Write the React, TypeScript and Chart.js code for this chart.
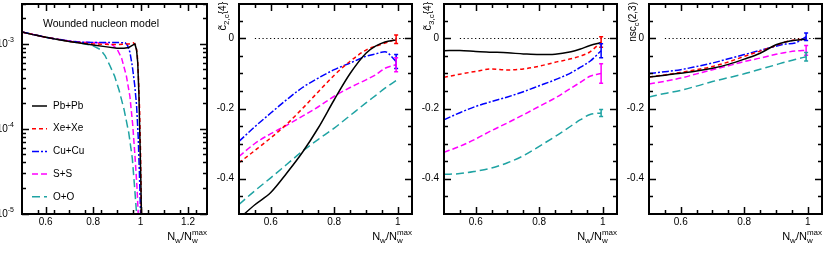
import React, { useEffect, useRef } from 'react';
import { Chart, registerables } from 'chart.js';

Chart.register(...registerables);

const FONT = '"Liberation Sans", Arial, Helvetica, sans-serif';

// ---------- series meta ----------
const SERIES_NAMES = ['Pb+Pb', 'Xe+Xe', 'Cu+Cu', 'S+S', 'O+O'];
const SERIES_COLORS = ['#000000', '#ff0000', '#0000ff', '#ff00ff', '#1fa3a3'];
const SERIES_DASHES: number[][] = [[], [4, 3], [7, 2, 2, 2], [6, 3], [8, 4]];

// ---------- panel 1 : distribution (log) ----------
const P1_PB_X = [0.5, 0.55, 0.6, 0.65, 0.7, 0.75, 0.8, 0.85, 0.9, 0.93, 0.95, 0.965, 0.976, 0.983, 0.988, 0.993, 0.997, 1.001, 1.004];
const P1_PB_Y = [1.38e-3, 1.28e-3, 1.2e-3, 1.13e-3, 1.07e-3, 1.02e-3, 9.7e-4, 9.3e-4, 8.9e-4, 8.9e-4, 9.1e-4, 9.6e-4, 1.0e-3, 8.5e-4, 6e-4, 2.5e-4, 8e-5, 2.5e-5, 8e-6];
const P1_XE_X = [0.5, 0.6, 0.7, 0.75, 0.8, 0.85, 0.9, 0.95, 0.97, 0.98, 0.986, 0.991, 0.996, 1.0, 1.004];
const P1_XE_Y = [1.38e-3, 1.2e-3, 1.07e-3, 1.03e-3, 1.0e-3, 9.9e-4, 9.85e-4, 1.0e-3, 1.03e-3, 9.6e-4, 7.5e-4, 4e-4, 1.6e-4, 5e-5, 8e-6];
const P1_CU_X = [0.5, 0.6, 0.7, 0.75, 0.8, 0.85, 0.9, 0.935, 0.945, 0.955, 0.965, 0.975, 0.983, 0.99, 0.995, 1.0, 1.003];
const P1_CU_Y = [1.38e-3, 1.2e-3, 1.08e-3, 1.05e-3, 1.04e-3, 1.04e-3, 1.04e-3, 1.03e-3, 9.6e-4, 8e-4, 5.5e-4, 3.3e-4, 1.9e-4, 8e-5, 3e-5, 1e-5, 5e-6];
const P1_SS_X = [0.5, 0.6, 0.7, 0.75, 0.8, 0.85, 0.88, 0.9, 0.92, 0.94, 0.955, 0.967, 0.977, 0.985, 0.99, 0.994];
const P1_SS_Y = [1.38e-3, 1.2e-3, 1.08e-3, 1.05e-3, 1.04e-3, 1.03e-3, 9.8e-4, 8.8e-4, 6.8e-4, 4.2e-4, 2.4e-4, 1.1e-4, 4.5e-5, 2e-5, 1e-5, 5e-6];
const P1_OO_X = [0.5, 0.6, 0.7, 0.75, 0.8, 0.83, 0.85, 0.87, 0.89, 0.91, 0.93, 0.95, 0.965, 0.975, 0.983, 0.99];
const P1_OO_Y = [1.38e-3, 1.2e-3, 1.07e-3, 1.02e-3, 9.5e-4, 8.6e-4, 7.3e-4, 5.6e-4, 4.2e-4, 2.8e-4, 1.7e-4, 9e-5, 4.5e-5, 2e-5, 1e-5, 4e-6];

// ---------- panels 2-4 : common centrality grid ----------
const X_GRID = [0.5, 0.55, 0.6, 0.65, 0.7, 0.75, 0.8, 0.85, 0.9, 0.93, 0.96, 0.995];

const C2_PB = [-0.515, -0.475, -0.44, -0.385, -0.325, -0.255, -0.175, -0.1, -0.042, -0.022, -0.01, -0.004];
const C2_XE = [-0.355, -0.32, -0.284, -0.245, -0.2, -0.152, -0.105, -0.065, -0.033, -0.022, -0.013, -0.002];
const C2_CU = [-0.294, -0.252, -0.213, -0.175, -0.14, -0.113, -0.089, -0.07, -0.051, -0.044, -0.038, -0.066];
const C2_SS = [-0.337, -0.3, -0.272, -0.248, -0.222, -0.195, -0.165, -0.14, -0.118, -0.104, -0.085, -0.075];
const C2_OO = [-0.474, -0.435, -0.398, -0.36, -0.322, -0.288, -0.256, -0.22, -0.184, -0.163, -0.142, -0.12];
const C2_ERR = [0, 0.012, 0.02, 0.02, 0];

const C3_PB = [-0.035, -0.034, -0.037, -0.039, -0.041, -0.044, -0.046, -0.045, -0.038, -0.03, -0.02, -0.012];
const C3_XE = [-0.111, -0.102, -0.094, -0.087, -0.09, -0.087, -0.079, -0.068, -0.058, -0.05, -0.038, -0.01];
const C3_CU = [-0.232, -0.212, -0.194, -0.18, -0.167, -0.152, -0.135, -0.118, -0.098, -0.082, -0.065, -0.035];
const C3_SS = [-0.325, -0.308, -0.287, -0.263, -0.241, -0.218, -0.194, -0.17, -0.142, -0.125, -0.108, -0.1];
const C3_OO = [-0.388, -0.386, -0.379, -0.37, -0.355, -0.335, -0.308, -0.28, -0.25, -0.232, -0.217, -0.213];
const C3_ERR = [0, 0.015, 0.02, 0.028, 0.01];

const NSC_PB = [-0.11, -0.105, -0.099, -0.093, -0.085, -0.074, -0.059, -0.042, -0.018, -0.01, -0.005, -0.002];
const NSC_XE = [-0.11, -0.104, -0.097, -0.089, -0.08, -0.067, -0.051, -0.036, -0.02, -0.01, -0.004, -0.002];
const NSC_CU = [-0.1, -0.095, -0.089, -0.08, -0.07, -0.058, -0.046, -0.034, -0.022, -0.016, -0.013, 0.005];
const NSC_SS = [-0.13, -0.122, -0.113, -0.101, -0.089, -0.078, -0.066, -0.056, -0.045, -0.04, -0.036, -0.034];
const NSC_OO = [-0.167, -0.157, -0.148, -0.136, -0.123, -0.112, -0.101, -0.088, -0.075, -0.067, -0.06, -0.052];
const NSC_ERR = [0, 0, 0.011, 0.014, 0.012];

// ---------- ticks ----------
const X1_MAJOR = [0.6, 0.8, 1.0, 1.2];
const X1_LABELS = ['0.6', '0.8', '1', '1.2'];
const X_MAJOR = [0.6, 0.8, 1.0];
const X_LABELS = ['0.6', '0.8', '1'];
const Y_MAJOR = [0, -0.2, -0.4];
const Y_LABELS = ['0', '-0.2', '-0.4'];
const Y1_MAJOR = [1e-5, 1e-4, 1e-3];
const Y1_EXP = ['-5', '-4', '-3'];
const ZERO_FROM = 0.55;

// ---------- layout constants ----------
const TOP = 3.5;
const BOTTOM = 213.5;
const CANVAS_TOP = -12;
const CANVAS_H = 258 - CANVAS_TOP;
const PAD_TOP = TOP - CANVAS_TOP;
const X_AXIS_H = CANVAS_H - PAD_TOP - (BOTTOM - TOP);
const PAD_R = 22;

type Seg = { t: string; size: number; dy?: number; stack?: boolean };
type Series = { x: number[]; y: number[] };
interface PanelCfg {
  key: string;
  left: number;
  right: number;
  xMin: number;
  xMax: number;
  xMajor: number[];
  xLabels: string[];
  xMinor: number[];
  log: boolean;
  yMin: number;
  yMax: number;
  yMajor: number[];
  yLabels: string[];
  yMinor: number[];
  series: Series[];
  errs?: number[];
  yTitle?: Seg[];
  legend?: boolean;
  zeroLine?: boolean;
  smooth?: boolean;
}

function steps(a: number, b: number, st: number): number[] {
  const out: number[] = [];
  for (let v = a; v <= b + 1e-9; v += st) out.push(+v.toFixed(6));
  return out;
}
function logMinor(): number[] {
  const out: number[] = [];
  for (let e = -5; e <= -3; e++) for (let m = 2; m <= 9; m++) {
    const v = m * Math.pow(10, e);
    if (v <= 3e-3) out.push(v);
  }
  return out;
}

function drawRich(ctx: CanvasRenderingContext2D, segs: Seg[], x: number, y: number, align: 'left' | 'right') {
  const widths = segs.map((s) => {
    ctx.font = `${s.size}px ${FONT}`;
    return ctx.measureText(s.t).width;
  });
  const pos: number[] = [];
  let cur = 0, lastStart = 0, lastW = 0;
  segs.forEach((s, i) => {
    if (s.stack) {
      pos.push(lastStart);
      const w = Math.max(lastW, widths[i]);
      cur = lastStart + w;
      lastW = w;
    } else {
      pos.push(cur);
      lastStart = cur;
      lastW = widths[i];
      cur += widths[i];
    }
  });
  const x0 = align === 'right' ? x - cur : x;
  ctx.textAlign = 'left';
  ctx.textBaseline = 'alphabetic';
  segs.forEach((s, i) => {
    ctx.font = `${s.size}px ${FONT}`;
    ctx.fillText(s.t, x0 + pos[i], y + (s.dy || 0));
  });
}

const X_TITLE: Seg[] = [
  { t: 'N', size: 11 },
  { t: 'w', size: 8, dy: 3 },
  { t: '/', size: 11 },
  { t: 'N', size: 11 },
  { t: 'w', size: 8, dy: 3 },
  { t: 'max', size: 8, dy: -5, stack: true },
];

const PANELS: PanelCfg[] = [
  {
    key: 'p1', left: 22, right: 207, xMin: 0.5, xMax: 1.28,
    xMajor: X1_MAJOR, xLabels: X1_LABELS, xMinor: steps(0.5 + 0.2 / 3, 1.27, 0.2 / 3),
    log: true, yMin: 1e-5, yMax: 3e-3, yMajor: Y1_MAJOR, yLabels: Y1_EXP, yMinor: logMinor(),
    series: [
      { x: P1_PB_X, y: P1_PB_Y }, { x: P1_XE_X, y: P1_XE_Y }, { x: P1_CU_X, y: P1_CU_Y },
      { x: P1_SS_X, y: P1_SS_Y }, { x: P1_OO_X, y: P1_OO_Y },
    ],
    legend: true,
  },
  {
    key: 'p2', left: 239, right: 412, xMin: 0.5, xMax: 1.045,
    xMajor: X_MAJOR, xLabels: X_LABELS, xMinor: steps(0.55, 1.0, 0.05),
    log: false, yMin: -0.5, yMax: 0.1, yMajor: Y_MAJOR, yLabels: Y_LABELS, yMinor: steps(-0.45, 0.05, 0.05),
    series: [C2_PB, C2_XE, C2_CU, C2_SS, C2_OO].map((y) => ({ x: X_GRID, y })),
    errs: C2_ERR,
    yTitle: [{ t: 'c\u0303', size: 11 }, { t: '2,c', size: 8, dy: 3 }, { t: '{4}', size: 10 }],
    zeroLine: true, smooth: true,
  },
  {
    key: 'p3', left: 444, right: 617, xMin: 0.5, xMax: 1.045,
    xMajor: X_MAJOR, xLabels: X_LABELS, xMinor: steps(0.55, 1.0, 0.05),
    log: false, yMin: -0.5, yMax: 0.1, yMajor: Y_MAJOR, yLabels: Y_LABELS, yMinor: steps(-0.45, 0.05, 0.05),
    series: [C3_PB, C3_XE, C3_CU, C3_SS, C3_OO].map((y) => ({ x: X_GRID, y })),
    errs: C3_ERR,
    yTitle: [{ t: 'c\u0303', size: 11 }, { t: '3,c', size: 8, dy: 3 }, { t: '{4}', size: 10 }],
    zeroLine: true, smooth: true,
  },
  {
    key: 'p4', left: 649, right: 822, xMin: 0.5, xMax: 1.045,
    xMajor: X_MAJOR, xLabels: X_LABELS, xMinor: steps(0.55, 1.0, 0.05),
    log: false, yMin: -0.5, yMax: 0.1, yMajor: Y_MAJOR, yLabels: Y_LABELS, yMinor: steps(-0.45, 0.05, 0.05),
    series: [NSC_PB, NSC_XE, NSC_CU, NSC_SS, NSC_OO].map((y) => ({ x: X_GRID, y })),
    errs: NSC_ERR,
    yTitle: [{ t: 'nsc', size: 10 }, { t: 'c', size: 7.5, dy: 3 }, { t: '(2,3)', size: 10 }],
    zeroLine: true, smooth: true,
  },
];

const snap = (v: number) => Math.round(v) + 0.5;

function PanelChart({ cfg }: { cfg: PanelCfg }) {
  const ref = useRef<HTMLCanvasElement>(null);
  const padL = Math.min(40, Math.floor(cfg.left));
  const canvasLeft = Math.floor(cfg.left) - padL;
  const yAxisW = cfg.left - canvasLeft;
  const canvasW = Math.ceil(cfg.right + PAD_R - canvasLeft);
  const padRight = canvasW - (cfg.right - canvasLeft);

  useEffect(() => {
    const canvas = ref.current!;
    const datasets: any[] = cfg.series.map((s, i) => ({
      label: SERIES_NAMES[i],
      data: s.x.map((x, j) => ({ x, y: s.y[j] })),
      borderColor: SERIES_COLORS[i],
      backgroundColor: SERIES_COLORS[i],
      borderWidth: 1.5,
      borderDash: SERIES_DASHES[i],
      pointRadius: 0,
      fill: false,
      tension: 0,
      cubicInterpolationMode: cfg.smooth ? 'monotone' : 'default',
    }));
    if (cfg.zeroLine) {
      datasets.push({
        label: 'zero',
        data: [{ x: ZERO_FROM, y: 0 }, { x: cfg.xMax, y: 0 }],
        borderColor: '#000000',
        borderWidth: 1.2,
        borderDash: [1.2, 2.6],
        pointRadius: 0,
        fill: false,
      });
    }

    const decor = {
      id: 'decor_' + cfg.key,
      afterDatasetsDraw(chart: any) {
        const ctx: CanvasRenderingContext2D = chart.ctx;
        const { left, right, top, bottom } = chart.chartArea;
        const xs = chart.scales.x;
        const ys = chart.scales.y;
        ctx.save();
        // error bars
        if (cfg.errs) {
          cfg.series.forEach((s, i) => {
            const e = cfg.errs![i];
            if (!e) return;
            const n = s.x.length - 1;
            const px = xs.getPixelForValue(s.x[n]);
            const y1 = ys.getPixelForValue(s.y[n] + e);
            const y2 = ys.getPixelForValue(s.y[n] - e);
            ctx.strokeStyle = SERIES_COLORS[i];
            ctx.lineWidth = 1.5;
            ctx.setLineDash([]);
            ctx.beginPath();
            ctx.moveTo(px, y1); ctx.lineTo(px, y2);
            ctx.moveTo(px - 2, y1); ctx.lineTo(px + 2, y1);
            ctx.moveTo(px - 2, y2); ctx.lineTo(px + 2, y2);
            ctx.stroke();
          });
        }
        // frame and inward ticks
        const L = snap(left) - 0.5, R = snap(right) - 0.5, T = snap(top) - 0.5, B = snap(bottom) - 0.5;
        ctx.strokeStyle = '#000';
        ctx.lineWidth = 1.5;
        ctx.setLineDash([]);
        ctx.beginPath();
        const xt = (v: number, len: number) => {
          const p = snap(xs.getPixelForValue(v));
          ctx.moveTo(p, B); ctx.lineTo(p, B - len);
          ctx.moveTo(p, T); ctx.lineTo(p, T + len);
        };
        const yt = (v: number, len: number) => {
          const p = snap(ys.getPixelForValue(v));
          ctx.moveTo(L, p); ctx.lineTo(L + len, p);
          ctx.moveTo(R, p); ctx.lineTo(R - len, p);
        };
        cfg.xMinor.forEach((v) => xt(v, 4));
        cfg.xMajor.forEach((v) => xt(v, 7));
        cfg.yMinor.forEach((v) => yt(v, 4));
        cfg.yMajor.forEach((v) => yt(v, 7));
        ctx.stroke();
        ctx.lineWidth = 2;
        ctx.strokeRect(L, T, R - L, B - T);

        ctx.fillStyle = '#000';
        // log y labels
        if (cfg.log) {
          cfg.yMajor.forEach((v, i) => {
            const p = ys.getPixelForValue(v);
            drawRich(ctx, [{ t: '10', size: 10 }, { t: cfg.yLabels[i], size: 7, dy: -5 }], left - 8, p + 3.5, 'right');
          });
        }
        // x title
        drawRich(ctx, X_TITLE, right, 240 - CANVAS_TOP, 'right');
        // y title (rotated)
        if (cfg.yTitle) {
          ctx.save();
          ctx.translate(left - 13, 2 - CANVAS_TOP);
          ctx.rotate(-Math.PI / 2);
          drawRich(ctx, cfg.yTitle, 0, 0, 'right');
          ctx.restore();
        }
        // legend + note
        if (cfg.legend) {
          const ox = -canvasLeft;
          ctx.font = `10.5px ${FONT}`;
          ctx.textAlign = 'left';
          ctx.textBaseline = 'middle';
          ctx.fillText('Wounded nucleon model', 43 + ox, 24 - CANVAS_TOP);
          SERIES_NAMES.forEach((name, i) => {
            const y = 106 + i * 22.7 - CANVAS_TOP;
            ctx.strokeStyle = SERIES_COLORS[i];
            ctx.lineWidth = 1.5;
            ctx.setLineDash(SERIES_DASHES[i]);
            ctx.beginPath();
            ctx.moveTo(32 + ox, y);
            ctx.lineTo(47 + ox, y);
            ctx.stroke();
            ctx.setLineDash([]);
            ctx.fillStyle = '#000';
            ctx.font = `10px ${FONT}`;
            ctx.fillText(name, 53 + ox, y);
          });
        }
        ctx.restore();
      },
    };

    const chart = new Chart(canvas, {
      type: 'line',
      data: { datasets },
      options: {
        animation: false,
        responsive: false,
        maintainAspectRatio: false,
        events: [],
        layout: { padding: { top: PAD_TOP, right: padRight, bottom: 0, left: 0 } },
        plugins: { legend: { display: false }, tooltip: { enabled: false } },
        scales: {
          x: {
            type: 'linear',
            min: cfg.xMin,
            max: cfg.xMax,
            afterFit: (s: any) => { s.height = X_AXIS_H; },
            afterBuildTicks: (s: any) => { s.ticks = cfg.xMajor.map((v) => ({ value: v })); },
            ticks: {
              callback: (_v: any, i: number) => cfg.xLabels[i],
              font: { family: FONT, size: 10 },
              color: '#000',
              padding: 3,
              autoSkip: false,
              maxRotation: 0,
            },
            grid: { display: false, drawTicks: false },
            border: { display: false },
          },
          y: {
            type: cfg.log ? 'logarithmic' : 'linear',
            min: cfg.yMin,
            max: cfg.yMax,
            afterFit: (s: any) => { s.width = yAxisW; },
            afterBuildTicks: (s: any) => { s.ticks = cfg.yMajor.map((v) => ({ value: v })); },
            ticks: {
              display: !cfg.log,
              callback: (_v: any, i: number) => cfg.yLabels[i],
              font: { family: FONT, size: 10 },
              color: '#000',
              padding: 5,
              autoSkip: false,
            },
            grid: { display: false, drawTicks: false },
            border: { display: false },
          },
        },
      } as any,
      plugins: [decor],
    });
    return () => chart.destroy();
  }, []);

  return (
    <canvas
      ref={ref}
      width={canvasW}
      height={CANVAS_H}
      style={{ position: 'absolute', left: canvasLeft, top: CANVAS_TOP, width: canvasW, height: CANVAS_H }}
    />
  );
}

export default function App() {
  return (
    <div style={{ position: 'fixed', left: 0, top: 0, width: 830, height: 258, overflow: 'hidden', background: '#fff' }}>
      {PANELS.map((p) => (
        <PanelChart key={p.key} cfg={p} />
      ))}
    </div>
  );
}
